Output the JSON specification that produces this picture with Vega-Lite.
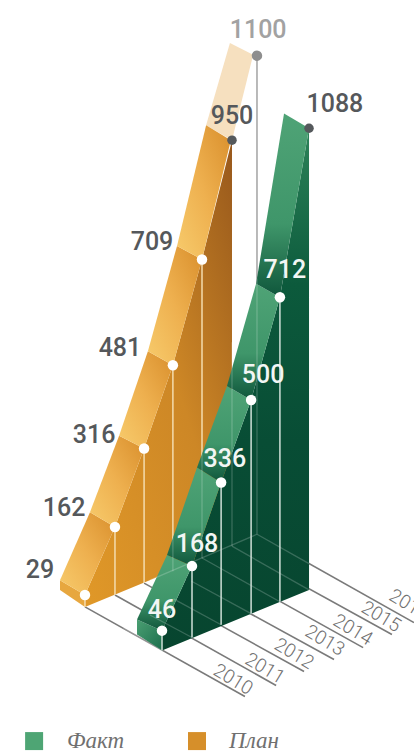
{"$schema":"https://vega.github.io/schema/vega-lite/v6.json","width":414,"height":754,"padding":0,"autosize":{"type":"fit","contains":"padding"},"background":"#ffffff","config":{"view":{"stroke":null}},
"datasets":{
"polys":[
{"shape":"pale","seg":2015,"i":0,"pos":7.82,"lvl":1665},{"shape":"pale","seg":2015,"i":1,"pos":8.61,"lvl":1637},{"shape":"pale","seg":2015,"i":2,"pos":7.89,"lvl":1436},{"shape":"pale","seg":2015,"i":3,"pos":7.01,"lvl":1471},
{"shape":"pw","seg":1,"i":0,"pos":2.89,"lvl":365},{"shape":"pw","seg":1,"i":1,"pos":3.91,"lvl":525},{"shape":"pw","seg":1,"i":2,"pos":4.9,"lvl":710},{"shape":"pw","seg":1,"i":3,"pos":5.88,"lvl":906},{"shape":"pw","seg":1,"i":4,"pos":6.87,"lvl":1155},{"shape":"pw","seg":1,"i":5,"pos":7.89,"lvl":1436},{"shape":"pw","seg":1,"i":6,"pos":7.89,"lvl":480},{"shape":"pw","seg":1,"i":7,"pos":2.89,"lvl":337},
{"shape":"pf","seg":1,"i":0,"pos":2.04,"lvl":400},{"shape":"pf","seg":1,"i":1,"pos":2.89,"lvl":365},{"shape":"pf","seg":1,"i":2,"pos":2.89,"lvl":337},{"shape":"pf","seg":1,"i":3,"pos":2.04,"lvl":377},
{"shape":"pr","seg":2010,"i":0,"pos":2.04,"lvl":400},{"shape":"pr","seg":2010,"i":1,"pos":2.89,"lvl":365},{"shape":"pr","seg":2010,"i":2,"pos":3.91,"lvl":525},{"shape":"pr","seg":2010,"i":3,"pos":3.06,"lvl":560},
{"shape":"pr","seg":2011,"i":0,"pos":3.06,"lvl":560},{"shape":"pr","seg":2011,"i":1,"pos":3.91,"lvl":525},{"shape":"pr","seg":2011,"i":2,"pos":4.9,"lvl":710},{"shape":"pr","seg":2011,"i":3,"pos":4.05,"lvl":740},
{"shape":"pr","seg":2012,"i":0,"pos":4.05,"lvl":740},{"shape":"pr","seg":2012,"i":1,"pos":4.9,"lvl":710},{"shape":"pr","seg":2012,"i":2,"pos":5.88,"lvl":906},{"shape":"pr","seg":2012,"i":3,"pos":5.03,"lvl":939},
{"shape":"pr","seg":2013,"i":0,"pos":5.03,"lvl":939},{"shape":"pr","seg":2013,"i":1,"pos":5.88,"lvl":906},{"shape":"pr","seg":2013,"i":2,"pos":6.87,"lvl":1155},{"shape":"pr","seg":2013,"i":3,"pos":6.02,"lvl":1187},
{"shape":"pr","seg":2014,"i":0,"pos":6.02,"lvl":1187},{"shape":"pr","seg":2014,"i":1,"pos":6.87,"lvl":1155},{"shape":"pr","seg":2014,"i":2,"pos":7.85,"lvl":1436},{"shape":"pr","seg":2014,"i":3,"pos":7.01,"lvl":1471},
{"shape":"fw","seg":1,"i":0,"pos":5.51,"lvl":281},{"shape":"fw","seg":1,"i":1,"pos":6.53,"lvl":433},{"shape":"fw","seg":1,"i":2,"pos":7.52,"lvl":630},{"shape":"fw","seg":1,"i":3,"pos":8.54,"lvl":824},{"shape":"fw","seg":1,"i":4,"pos":9.52,"lvl":1066},{"shape":"fw","seg":1,"i":5,"pos":10.51,"lvl":1464},{"shape":"fw","seg":1,"i":6,"pos":10.51,"lvl":377},{"shape":"fw","seg":1,"i":7,"pos":5.51,"lvl":234},
{"shape":"ff","seg":1,"i":0,"pos":4.66,"lvl":307},{"shape":"ff","seg":1,"i":1,"pos":5.51,"lvl":281},{"shape":"ff","seg":1,"i":2,"pos":5.51,"lvl":234},{"shape":"ff","seg":1,"i":3,"pos":4.66,"lvl":272},
{"shape":"fr","seg":2010,"i":0,"pos":4.66,"lvl":307},{"shape":"fr","seg":2010,"i":1,"pos":5.51,"lvl":281},{"shape":"fr","seg":2010,"i":2,"pos":6.53,"lvl":433},{"shape":"fr","seg":2010,"i":3,"pos":5.68,"lvl":459},
{"shape":"fr","seg":2011,"i":0,"pos":5.68,"lvl":459},{"shape":"fr","seg":2011,"i":1,"pos":6.53,"lvl":433},{"shape":"fr","seg":2011,"i":2,"pos":7.52,"lvl":630},{"shape":"fr","seg":2011,"i":3,"pos":6.7,"lvl":665},
{"shape":"fr","seg":2012,"i":0,"pos":6.7,"lvl":665},{"shape":"fr","seg":2012,"i":1,"pos":7.52,"lvl":630},{"shape":"fr","seg":2012,"i":2,"pos":8.54,"lvl":824},{"shape":"fr","seg":2012,"i":3,"pos":7.72,"lvl":857},
{"shape":"fr","seg":2013,"i":0,"pos":7.72,"lvl":857},{"shape":"fr","seg":2013,"i":1,"pos":8.54,"lvl":824},{"shape":"fr","seg":2013,"i":2,"pos":9.52,"lvl":1066},{"shape":"fr","seg":2013,"i":3,"pos":8.71,"lvl":1098},
{"shape":"fr","seg":2014,"i":0,"pos":8.71,"lvl":1098},{"shape":"fr","seg":2014,"i":1,"pos":9.52,"lvl":1066},{"shape":"fr","seg":2014,"i":2,"pos":10.51,"lvl":1464},{"shape":"fr","seg":2014,"i":3,"pos":9.66,"lvl":1499}
],
"grid":[
{"year":2010,"i":0,"pos":2.89,"lvl":337},{"year":2010,"i":1,"pos":8.33,"lvl":126},
{"year":2011,"i":0,"pos":3.91,"lvl":365},{"year":2011,"i":1,"pos":9.39,"lvl":152},
{"year":2012,"i":0,"pos":4.9,"lvl":393},{"year":2012,"i":1,"pos":10.34,"lvl":185},
{"year":2013,"i":0,"pos":5.88,"lvl":421},{"year":2013,"i":1,"pos":11.36,"lvl":213},
{"year":2014,"i":0,"pos":6.87,"lvl":452},{"year":2014,"i":1,"pos":12.35,"lvl":241},
{"year":2015,"i":0,"pos":7.89,"lvl":480},{"year":2015,"i":1,"pos":13.33,"lvl":272},
{"year":2016,"i":0,"pos":8.74,"lvl":508},{"year":2016,"i":1,"pos":14.08,"lvl":300}
],
"inner":[
{"year":2010,"i":0,"pos":4.2,"lvl":287},{"year":2010,"i":1,"pos":5.51,"lvl":234},
{"year":2011,"i":0,"pos":5.1,"lvl":318},{"year":2011,"i":1,"pos":6.53,"lvl":265},
{"year":2012,"i":0,"pos":5.9,"lvl":356},{"year":2012,"i":1,"pos":7.52,"lvl":295},
{"year":2013,"i":0,"pos":6.5,"lvl":398},{"year":2013,"i":1,"pos":8.54,"lvl":321},
{"year":2014,"i":0,"pos":6.87,"lvl":452},{"year":2014,"i":1,"pos":9.52,"lvl":349},
{"year":2015,"i":0,"pos":7.89,"lvl":480},{"year":2015,"i":1,"pos":10.51,"lvl":377},
{"year":2016,"i":0,"pos":8.74,"lvl":508},{"year":2016,"i":1,"pos":10.51,"lvl":439},
{"year":2017,"i":0,"pos":8.74,"lvl":508},{"year":2017,"i":1,"pos":5.1,"lvl":400}
],
"pts":[
{"series":"План","year":2010,"value":29,"pos":2.89,"lvl":365,"base":337,"through":337},
{"series":"План","year":2011,"value":162,"pos":3.91,"lvl":525,"base":365,"through":365},
{"series":"План","year":2012,"value":316,"pos":4.9,"lvl":710,"base":393,"through":393},
{"series":"План","year":2013,"value":481,"pos":5.88,"lvl":906,"base":421,"through":501},
{"series":"План","year":2014,"value":709,"pos":6.87,"lvl":1155,"base":452,"through":698},
{"series":"План","year":2015,"value":950,"pos":7.89,"lvl":1436,"base":480,"through":960},
{"series":"План","year":2016,"value":1100,"pos":8.74,"lvl":1635,"base":508,"through":1110},
{"series":"Факт","year":2010,"value":46,"pos":5.51,"lvl":281,"base":234},
{"series":"Факт","year":2011,"value":168,"pos":6.53,"lvl":433,"base":265},
{"series":"Факт","year":2012,"value":336,"pos":7.52,"lvl":630,"base":295},
{"series":"Факт","year":2013,"value":500,"pos":8.54,"lvl":824,"base":321},
{"series":"Факт","year":2014,"value":712,"pos":9.52,"lvl":1066,"base":349},
{"series":"Факт","year":2015,"value":1088,"pos":10.51,"lvl":1464,"base":377}
],
"labels":[
{"series":"План","year":2016,"value":1100,"pos":8.78,"lvl":1696},
{"series":"План","year":2015,"value":950,"pos":7.89,"lvl":1492},
{"series":"План","year":2014,"value":709,"pos":5.17,"lvl":1197},
{"series":"План","year":2013,"value":481,"pos":4.08,"lvl":946},
{"series":"План","year":2012,"value":316,"pos":3.2,"lvl":742},
{"series":"План","year":2011,"value":162,"pos":2.18,"lvl":571},
{"series":"План","year":2010,"value":29,"pos":1.36,"lvl":424},
{"series":"Факт","year":2015,"value":1088,"pos":11.39,"lvl":1520},
{"series":"Факт","year":2014,"value":712,"pos":9.69,"lvl":1131},
{"series":"Факт","year":2013,"value":500,"pos":8.95,"lvl":883},
{"series":"Факт","year":2012,"value":336,"pos":7.65,"lvl":686},
{"series":"Факт","year":2011,"value":168,"pos":6.7,"lvl":485},
{"series":"Факт","year":2010,"value":46,"pos":5.51,"lvl":330}
],
"years":[
{"year":"2010","pos":7.93,"lvl":166},{"year":"2011","pos":9.01,"lvl":192},{"year":"2012","pos":10.0,"lvl":227},{"year":"2013","pos":11.05,"lvl":258},{"year":"2014","pos":12.0,"lvl":283},{"year":"2015","pos":12.96,"lvl":314},{"year":"2016","pos":13.91,"lvl":342}
],
"legend":[
{"series":"Факт","pos":1.16,"lvl":21,"tpos":2.28},{"series":"План","pos":6.7,"lvl":21,"tpos":7.79}
]},
"encoding":{
"x":{"field":"pos","type":"quantitative","scale":{"domain":[0,14.08],"nice":false,"zero":false},"axis":null},
"y":{"field":"lvl","type":"quantitative","scale":{"domain":[0,1766],"nice":false,"zero":false},"axis":null}
},
"layer":[
{"data":{"name":"grid"},"mark":{"type":"line","stroke":"#7a7a7a","strokeWidth":1.6,"clip":true},"encoding":{"detail":{"field":"year"},"order":{"field":"i","type":"quantitative"}}},
{"data":{"name":"polys"},"transform":[{"filter":"datum.shape=='pale'"}],"mark":{"type":"line","strokeWidth":0,"fill":"#f6e0bf"},"encoding":{"detail":{"field":"seg"},"order":{"field":"i","type":"quantitative"}}},
{"data":{"name":"polys"},"transform":[{"filter":"datum.shape=='pw'"}],"mark":{"type":"line","strokeWidth":0,"fill":{"gradient":"linear","x1":0,"y1":1,"x2":1,"y2":0,"stops":[{"offset":0,"color":"#e09828"},{"offset":0.55,"color":"#cd8726"},{"offset":0.85,"color":"#a9681f"},{"offset":1,"color":"#98581c"}]}},"encoding":{"detail":{"field":"seg"},"order":{"field":"i","type":"quantitative"}}},
{"data":{"name":"polys"},"transform":[{"filter":"datum.shape=='pf'"}],"mark":{"type":"line","strokeWidth":0,"fill":"#e7a73f"},"encoding":{"detail":{"field":"seg"},"order":{"field":"i","type":"quantitative"}}},
{"data":{"name":"polys"},"transform":[{"filter":"datum.shape=='pr'"}],"mark":{"type":"line","strokeWidth":0,"fill":{"gradient":"linear","x1":0,"y1":1,"x2":1,"y2":0,"stops":[{"offset":0,"color":"#f7cb6c"},{"offset":0.5,"color":"#eeb04f"},{"offset":1,"color":"#d98f2c"}]}},"encoding":{"detail":{"field":"seg"},"order":{"field":"i","type":"quantitative"}}},
{"data":{"name":"pts"},"transform":[{"filter":"datum.series=='План' && datum.year<2015"}],"mark":{"type":"rule","stroke":"#f4dcae","strokeWidth":1.5},"encoding":{"y2":{"field":"base"}}},
{"data":{"name":"pts"},"transform":[{"filter":"datum.year==2016"}],"mark":{"type":"rule","stroke":"#a3a3a3","strokeWidth":1.5},"encoding":{"y2":{"field":"base"}}},
{"data":{"name":"polys"},"transform":[{"filter":"datum.shape=='fw'"}],"mark":{"type":"line","strokeWidth":0,"fill":{"gradient":"linear","x1":0,"y1":0,"x2":0,"y2":1,"stops":[{"offset":0,"color":"#2c8359"},{"offset":0.3,"color":"#0c5a3c"},{"offset":0.6,"color":"#084d35"},{"offset":1,"color":"#07452f"}]}},"encoding":{"detail":{"field":"seg"},"order":{"field":"i","type":"quantitative"}}},
{"data":{"name":"polys"},"transform":[{"filter":"datum.shape=='ff'"}],"mark":{"type":"line","strokeWidth":0,"fill":{"gradient":"linear","x1":0,"y1":0,"x2":1,"y2":1,"stops":[{"offset":0,"color":"#4a9f72"},{"offset":1,"color":"#1c6e4d"}]}},"encoding":{"detail":{"field":"seg"},"order":{"field":"i","type":"quantitative"}}},
{"data":{"name":"polys"},"transform":[{"filter":"datum.shape=='fr'"}],"mark":{"type":"line","strokeWidth":0,"fill":{"gradient":"linear","x1":0,"y1":0,"x2":0,"y2":1,"stops":[{"offset":0,"color":"#4fa376"},{"offset":0.6,"color":"#3f966a"},{"offset":1,"color":"#0f563b"}]}},"encoding":{"detail":{"field":"seg"},"order":{"field":"i","type":"quantitative"}}},
{"data":{"name":"inner"},"mark":{"type":"line","stroke":"#ffffff","strokeOpacity":0.2,"strokeWidth":1.3},"encoding":{"detail":{"field":"year"},"order":{"field":"i","type":"quantitative"}}},
{"data":{"name":"pts"},"transform":[{"filter":"datum.series=='План' && datum.year>=2013"}],"mark":{"type":"rule","stroke":"#ffffff","strokeOpacity":0.2,"strokeWidth":1.3},"encoding":{"y":{"field":"through","type":"quantitative"},"y2":{"field":"base"}}},
{"data":{"name":"pts"},"transform":[{"filter":"datum.series=='Факт' && datum.year<2015"}],"mark":{"type":"rule","stroke":"#cfe0d8","strokeWidth":1.5},"encoding":{"y2":{"field":"base"}}},
{"data":{"name":"pts"},"transform":[{"filter":"datum.year<2015"}],"mark":{"type":"point","shape":"circle","filled":true,"opacity":1,"color":"#ffffff","size":110}},
{"data":{"name":"pts"},"transform":[{"filter":"datum.value==950 || datum.value==1088"}],"mark":{"type":"point","shape":"circle","filled":true,"opacity":1,"color":"#55595c","size":90}},
{"data":{"name":"pts"},"transform":[{"filter":"datum.value==1100"}],"mark":{"type":"point","shape":"circle","filled":true,"opacity":1,"color":"#8e8e8e","size":110}},
{"data":{"name":"labels"},"transform":[{"filter":"datum.series=='План' && datum.value!=1100 || datum.value==1088"}],"mark":{"type":"text","font":"Roboto","fontWeight":500,"fontSize":25,"color":"#55585b","baseline":"middle","align":"center"},"encoding":{"text":{"field":"value","type":"quantitative"}}},
{"data":{"name":"labels"},"transform":[{"filter":"datum.value==1100"}],"mark":{"type":"text","font":"Roboto","fontWeight":500,"fontSize":25,"color":"#a2a2a2","baseline":"middle","align":"center"},"encoding":{"text":{"field":"value","type":"quantitative"}}},
{"data":{"name":"labels"},"transform":[{"filter":"datum.series=='Факт' && datum.value!=1088"}],"mark":{"type":"text","font":"Roboto","fontWeight":500,"fontSize":25,"color":"#f2f6f4","baseline":"middle","align":"center"},"encoding":{"text":{"field":"value","type":"quantitative"}}},
{"data":{"name":"years"},"mark":{"type":"text","font":"Roboto","fontWeight":300,"fontSize":19,"color":"#707070","angle":31,"baseline":"middle","align":"center","clip":true},"encoding":{"text":{"field":"year","type":"nominal"}}},
{"data":{"name":"legend"},"transform":[{"filter":"datum.series=='Факт'"}],"mark":{"type":"point","shape":"square","filled":true,"opacity":1,"color":"#4ea574","size":324}},
{"data":{"name":"legend"},"transform":[{"filter":"datum.series=='План'"}],"mark":{"type":"point","shape":"square","filled":true,"opacity":1,"color":"#d68f2a","size":324}},
{"data":{"name":"legend"},"mark":{"type":"text","font":"Liberation Serif","fontStyle":"italic","fontSize":23,"color":"#707070","align":"left","baseline":"alphabetic"},"encoding":{"x":{"field":"tpos","type":"quantitative","scale":{"domain":[0,14.08],"nice":false,"zero":false},"axis":null},"y":{"datum":4,"type":"quantitative"},"text":{"field":"series","type":"nominal"}}}
]}
